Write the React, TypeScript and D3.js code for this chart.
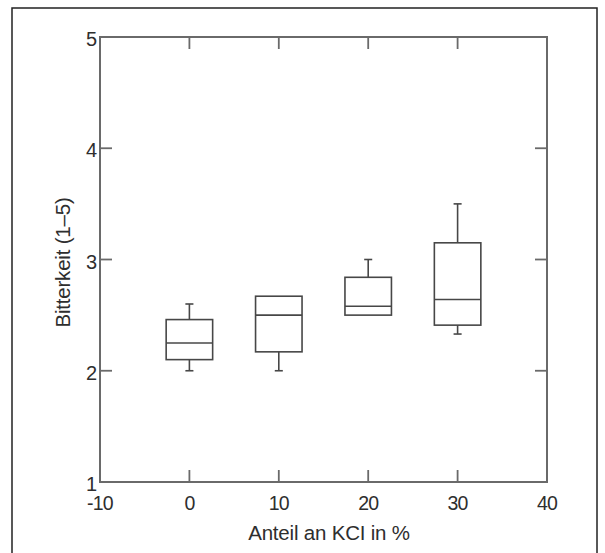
import * as d3 from 'd3';
import { useEffect, useRef } from 'react';

// KCl share (%) and the five-number summaries
const kclShare = [0, 10, 20, 30];
const whiskerLow = [2.0, 2.0, 2.5, 2.33];
const quartile1 = [2.1, 2.17, 2.5, 2.41];
const medians = [2.25, 2.5, 2.58, 2.64];
const quartile3 = [2.46, 2.67, 2.84, 3.15];
const whiskerHigh = [2.6, 2.67, 3.0, 3.5];

const xTicks = [-10, 0, 10, 20, 30, 40];
const yTicks = [1, 2, 3, 4, 5];

export default function App() {
  const ref = useRef<SVGSVGElement | null>(null);

  useEffect(() => {
    const svg = d3.select(ref.current);
    svg.selectAll('*').remove();

    const width = 605, height = 553;
    const left = 100, right = 547, top = 37, bottom = 482;
    const font = '"Liberation Sans", Arial, sans-serif';
    const axisColor = '#6a6a6a';
    const boxColor = '#474747';
    const textColor = '#2e2e2e';

    const x = d3.scaleLinear().domain([-10, 40]).range([left, right]);
    const y = d3.scaleLinear().domain([1, 5]).range([bottom, top]);

    // outer frame
    svg.append('rect')
      .attr('x', 12).attr('y', 8)
      .attr('width', 585).attr('height', height)
      .attr('fill', 'none').attr('stroke', '#222').attr('stroke-width', 1.5);

    // axes box
    svg.append('rect')
      .attr('x', left).attr('y', top)
      .attr('width', right - left).attr('height', bottom - top)
      .attr('fill', 'none').attr('stroke', axisColor).attr('stroke-width', 2);

    const tickLen = 12;
    const g = svg.append('g').attr('stroke', axisColor).attr('stroke-width', 1.8);
    xTicks.forEach((t) => {
      g.append('line').attr('x1', x(t)).attr('x2', x(t)).attr('y1', bottom).attr('y2', bottom - tickLen);
      g.append('line').attr('x1', x(t)).attr('x2', x(t)).attr('y1', top).attr('y2', top + tickLen);
    });
    yTicks.forEach((t) => {
      g.append('line').attr('x1', left).attr('x2', left + tickLen).attr('y1', y(t)).attr('y2', y(t));
      g.append('line').attr('x1', right).attr('x2', right - tickLen).attr('y1', y(t)).attr('y2', y(t));
    });

    // tick labels
    svg.append('g').selectAll('text').data(xTicks).join('text')
      .attr('x', (d) => x(d)).attr('y', bottom + 28)
      .attr('text-anchor', 'middle')
      .attr('font-family', font).attr('font-size', 19.5).attr('letter-spacing', -0.8)
      .attr('fill', textColor)
      .text((d) => d);

    svg.append('g').selectAll('text').data(yTicks).join('text')
      .attr('x', left - 3).attr('y', (d) => y(d) + 9)
      .attr('text-anchor', 'end')
      .attr('font-family', font).attr('font-size', 20)
      .attr('fill', textColor)
      .text((d) => d);

    // axis titles
    svg.append('text')
      .attr('x', 329).attr('y', 540)
      .attr('text-anchor', 'middle')
      .attr('font-family', font).attr('font-size', 20.5).attr('letter-spacing', -0.2)
      .attr('fill', textColor)
      .text('Anteil an KCI in %');

    svg.append('text')
      .attr('transform', `translate(70,${(top + bottom) / 2 + 3}) rotate(-90)`)
      .attr('text-anchor', 'middle')
      .attr('font-family', font).attr('font-size', 20.5).attr('letter-spacing', -0.2)
      .attr('fill', textColor)
      .text('Bitterkeit (1–5)');

    // boxes
    const halfBox = 2.6;
    const halfCap = 0.45;
    const boxes = svg.append('g')
      .attr('fill', 'none').attr('stroke', boxColor).attr('stroke-width', 1.6);
    kclShare.forEach((k, i) => {
      const cx = x(k);
      if (whiskerHigh[i] > quartile3[i]) {
        boxes.append('line').attr('x1', cx).attr('x2', cx).attr('y1', y(quartile3[i])).attr('y2', y(whiskerHigh[i]));
        boxes.append('line').attr('x1', x(k - halfCap)).attr('x2', x(k + halfCap)).attr('y1', y(whiskerHigh[i])).attr('y2', y(whiskerHigh[i]));
      }
      if (whiskerLow[i] < quartile1[i]) {
        boxes.append('line').attr('x1', cx).attr('x2', cx).attr('y1', y(quartile1[i])).attr('y2', y(whiskerLow[i]));
        boxes.append('line').attr('x1', x(k - halfCap)).attr('x2', x(k + halfCap)).attr('y1', y(whiskerLow[i])).attr('y2', y(whiskerLow[i]));
      }
      boxes.append('rect')
        .attr('x', x(k - halfBox)).attr('y', y(quartile3[i]))
        .attr('width', x(k + halfBox) - x(k - halfBox))
        .attr('height', y(quartile1[i]) - y(quartile3[i]));
      boxes.append('line')
        .attr('x1', x(k - halfBox)).attr('x2', x(k + halfBox))
        .attr('y1', y(medians[i])).attr('y2', y(medians[i]));
    });

    svg.attr('width', width).attr('height', height);
  }, []);

  return (
    <svg
      ref={ref}
      width={605}
      height={553}
      style={{ position: 'absolute', left: 0, top: 0, background: '#fff' }}
    />
  );
}
